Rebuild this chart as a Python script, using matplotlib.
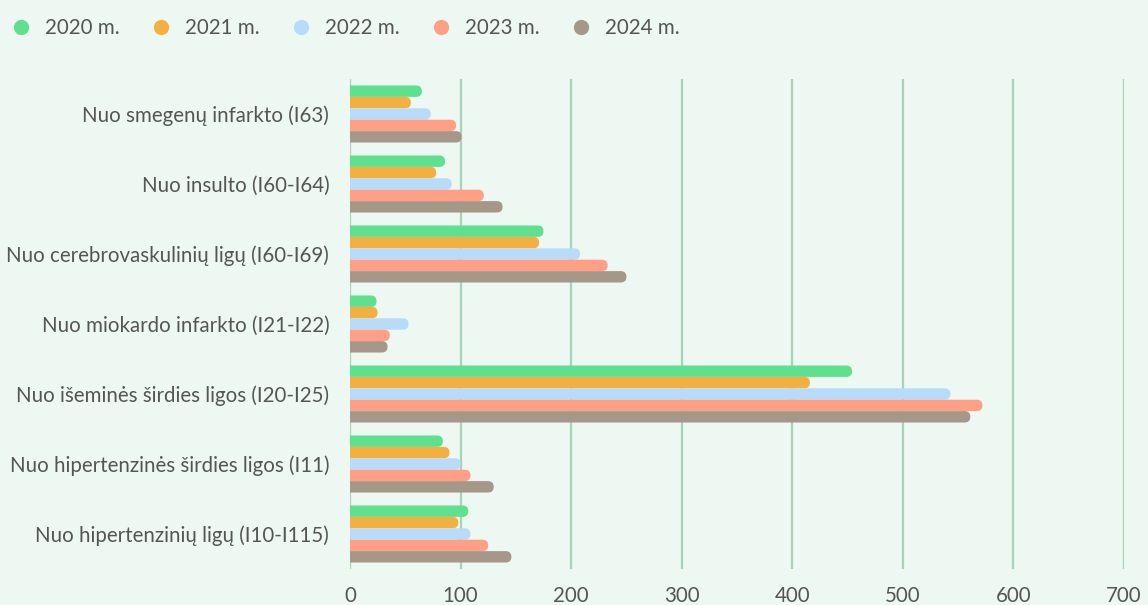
import numpy as np
import matplotlib.pyplot as plt
from matplotlib.patches import FancyBboxPatch
from matplotlib.lines import Line2D

# categories, top to bottom
causes = [
    "Nuo smegenų infarkto (I63)",
    "Nuo insulto (I60-I64)",
    "Nuo cerebrovaskulinių ligų (I60-I69)",
    "Nuo miokardo infarkto (I21-I22)",
    "Nuo išeminės širdies ligos (I20-I25)",
    "Nuo hipertenzinės širdies ligos (I11)",
    "Nuo hipertenzinių ligų (I10-I115)",
]
years = ["2020 m.", "2021 m.", "2022 m.", "2023 m.", "2024 m."]

v2020 = [65, 86, 175, 24, 454, 84, 107]
v2021 = [55, 78, 171, 25, 416, 90, 98]
v2022 = [73, 92, 208, 53, 543, 100, 109]
v2023 = [96, 121, 233, 36, 572, 109, 125]
v2024 = [101, 138, 250, 34, 561, 130, 146]
series = [v2020, v2021, v2022, v2023, v2024]

colors = ["#5ee08e", "#f3b041", "#b9dbfa", "#ff9f86", "#a69888"]
bg = "#eef8f2"
grid_col = "#a3d5b6"
text_col = "#555555"

plt.rcParams['font.family'] = ['Lato', 'DejaVu Sans']

fig = plt.figure(figsize=(11.48, 6.05), dpi=100, facecolor=bg)
ax = fig.add_axes([350 / 1148, 1 - 569 / 605, 774 / 1148, 490 / 605])
ax.set_facecolor(bg)

ax.set_xlim(0, 700)
ax.set_ylim(len(causes) - 0.5, -0.5)

# bar geometry in data units; rounded right end needs the px aspect
h = 0.163
fig.canvas.draw()
px_x = ax.transData.transform((1, 0))[0] - ax.transData.transform((0, 0))[0]
px_y = abs(ax.transData.transform((0, 1))[1] - ax.transData.transform((0, 0))[1])
r_px = h * px_y / 2
r_x = r_px / px_x
aspect = (r_px / px_y) / r_x

y = np.arange(len(causes))
for i, (vals, c) in enumerate(zip(series, colors)):
    offs = (i - 2) * h
    for yc, v in zip(y, vals):
        p = FancyBboxPatch((-r_x, yc + offs - h / 2), v + r_x, h,
                           boxstyle=f"round,pad=0,rounding_size={r_x}",
                           mutation_aspect=aspect, facecolor=c,
                           edgecolor="none", zorder=3)
        ax.add_patch(p)

ax.set_xticks(np.arange(0, 701, 100))
ax.set_yticks(y)
ax.set_yticklabels(causes)
ax.grid(axis="x", color=grid_col, linewidth=1.6, zorder=0)
ax.grid(axis="y", visible=False)
ax.tick_params(axis="both", length=0, labelsize=14.8, labelcolor=text_col)
ax.tick_params(axis="x", pad=12)
ax.tick_params(axis="y", pad=15)
for s in ax.spines.values():
    s.set_visible(False)

handles = [Line2D([], [], marker="o", linestyle="none", markersize=11,
                  markerfacecolor=c, markeredgecolor="none") for c in colors]
fig.legend(handles, years, loc="center left", bbox_to_anchor=(-0.007, 1 - 28 / 605),
           ncol=5, frameon=False, fontsize=14.8, labelcolor=text_col,
           handletextpad=0.7, columnspacing=1.48, handlelength=1.0)

fig.savefig("out.png", dpi=100, facecolor=bg)
